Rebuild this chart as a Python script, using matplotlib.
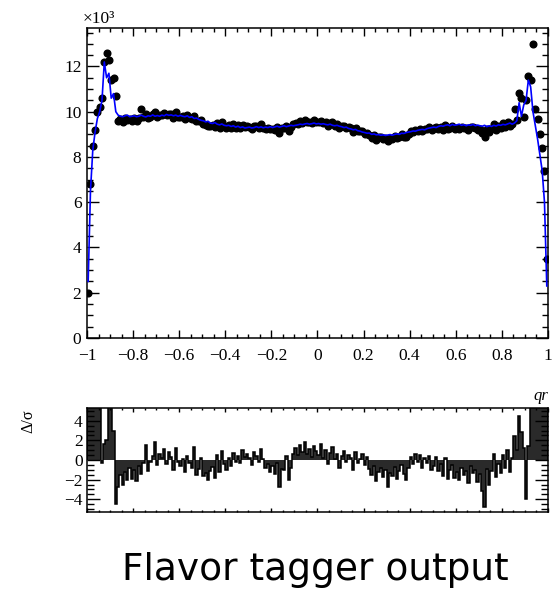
import numpy as np
import matplotlib.pyplot as plt
from matplotlib.ticker import MultipleLocator

# bin contents (in units of 10^3), 200 bins on [-1, 1]
data_k = [
    2.0, 6.8, 8.5, 9.2, 10.0, 10.2, 10.6, 12.2, 12.6, 12.3,
    11.4, 11.5, 10.7, 9.6, 9.7, 9.55, 9.72, 9.65, 9.7, 9.6,
    9.72, 9.57, 9.74, 10.1, 9.77, 9.92, 9.71, 9.78, 9.9, 9.98,
    9.78, 9.86, 9.87, 9.93, 9.84, 9.92, 9.89, 9.72, 9.97, 9.78,
    9.78, 9.81, 9.66, 9.86, 9.72, 9.7, 9.83, 9.57, 9.57, 9.64,
    9.44, 9.42, 9.38, 9.39, 9.41, 9.34, 9.5, 9.3, 9.55, 9.36,
    9.28, 9.42, 9.29, 9.45, 9.3, 9.4, 9.27, 9.43, 9.31, 9.36,
    9.34, 9.23, 9.38, 9.38, 9.28, 9.44, 9.3, 9.24, 9.26, 9.22,
    9.24, 9.19, 9.33, 9.04, 9.26, 9.28, 9.38, 9.17, 9.32, 9.44,
    9.52, 9.47, 9.6, 9.51, 9.64, 9.54, 9.56, 9.5, 9.64, 9.55,
    9.53, 9.61, 9.49, 9.54, 9.38, 9.52, 9.53, 9.39, 9.46, 9.28,
    9.38, 9.39, 9.3, 9.31, 9.26, 9.1, 9.3, 9.13, 9.15, 9.16,
    9.03, 9.08, 8.97, 8.85, 8.96, 8.77, 8.87, 8.88, 8.81, 8.85,
    8.69, 8.86, 8.8, 8.93, 8.83, 8.89, 9.0, 8.9, 8.88, 9.02,
    9.15, 9.11, 9.2, 9.16, 9.25, 9.14, 9.22, 9.22, 9.32, 9.2,
    9.26, 9.33, 9.24, 9.34, 9.2, 9.42, 9.23, 9.28, 9.39, 9.22,
    9.3, 9.25, 9.32, 9.28, 9.27, 9.19, 9.34, 9.31, 9.28, 9.19,
    9.24, 9.04, 8.88, 9.25, 9.12, 9.24, 9.46, 9.2, 9.38, 9.27,
    9.49, 9.34, 9.56, 9.38, 9.47, 10.1, 9.65, 10.85, 10.6, 9.75,
    10.5, 11.6, 11.4, 13.0, 10.1, 9.7, 9.0, 8.4, 7.4, 3.5,
]

fit_k = [
    2.5, 6.5, 8.3, 9.1, 9.7, 10.0, 10.5, 12.2, 11.5, 11.7,
    10.6, 10.8, 10.0, 9.85, 9.8, 9.78, 9.82, 9.85, 9.78, 9.8,
    9.82, 9.78, 9.8, 9.85, 9.8, 9.77, 9.82, 9.8, 9.86, 9.8,
    9.83, 9.8, 9.85, 9.82, 9.88, 9.84, 9.86, 9.82, 9.85, 9.8,
    9.84, 9.8, 9.78, 9.82, 9.75, 9.78, 9.7, 9.72, 9.66, 9.62,
    9.6, 9.55, 9.58, 9.5, 9.48, 9.52, 9.45, 9.42, 9.46, 9.4,
    9.38, 9.4, 9.35, 9.38, 9.32, 9.36, 9.3, 9.33, 9.28, 9.3,
    9.32, 9.28, 9.3, 9.34, 9.3, 9.33, 9.29, 9.32, 9.3, 9.34,
    9.3, 9.33, 9.36, 9.32, 9.35, 9.38, 9.34, 9.37, 9.4, 9.38,
    9.4, 9.42, 9.45, 9.43, 9.46, 9.48, 9.45, 9.47, 9.5, 9.46,
    9.48, 9.45, 9.47, 9.44, 9.42, 9.45, 9.4, 9.38, 9.4, 9.36,
    9.34, 9.3, 9.32, 9.26, 9.24, 9.2, 9.22, 9.16, 9.14, 9.1,
    9.08, 9.05, 9.06, 9.0, 9.02, 8.98, 8.99, 8.96, 8.98, 8.95,
    8.97, 8.99, 8.96, 9.0, 9.02, 9.0, 9.05, 9.04, 9.08, 9.1,
    9.12, 9.15, 9.14, 9.18, 9.2, 9.22, 9.2, 9.25, 9.28, 9.3,
    9.32, 9.3, 9.35, 9.38, 9.36, 9.4, 9.42, 9.38, 9.44, 9.4,
    9.42, 9.45, 9.4, 9.43, 9.38, 9.42, 9.4, 9.44, 9.38, 9.41,
    9.38, 9.36, 9.4, 9.34, 9.38, 9.35, 9.4, 9.37, 9.42, 9.4,
    9.44, 9.42, 9.46, 9.5, 9.45, 9.5, 9.6, 10.4, 9.8, 10.3,
    10.5, 11.4, 11.1, 10.0, 9.4, 8.8, 8.1, 7.4, 6.0, 2.3,
]

pull = [
    8, 9, 7, 8, 6, 7, -0.3, 1.6, 2.0, 8,
    7, 3.0, -4.5, -2.8, -1.5, -2.6, -1.2, -2.0, -0.8, -1.9,
    -1.0, -2.1, -0.6, -1.4, -0.3, 1.5, -1.1, -0.2, 0.4, 1.8,
    -0.5, 0.6, 0.2, 1.1, -0.4, 0.8, 0.3, -1.0, 1.2, -0.2,
    -0.6, 0.1, -1.2, 0.4, -0.3, -0.8, 1.3, -1.5, -0.9, 0.2,
    -1.6, -1.3, -2.0, -1.1, -0.7, -1.8, 0.5, -1.2, 0.9, -0.4,
    -1.0, 0.2, -0.6, 0.7, -0.2, 0.4, -0.3, 1.0, 0.3, 0.6,
    0.2, -0.5, 0.8, 0.4, -0.2, 1.1, 0.1, -0.8, -0.4, -1.2,
    -0.6, -1.4, -0.3, -2.8, -0.9, -1.0, 0.4, -2.0, -0.8, 0.6,
    1.2, 0.5, 1.5, 0.8, 1.8, 0.6, 1.1, 0.3, 1.4, 0.9,
    0.5, 1.6, 0.2, 1.0, -0.4, 0.7, 1.3, 0.1, 0.6, -0.8,
    0.4, 0.9, -0.2, 0.5, 0.2, -1.0, 0.8, -0.3, 0.1, 0.6,
    -0.5, 0.3, -0.9, -1.5, -0.6, -2.1, -1.2, -0.8, -1.7, -1.0,
    -2.8, -1.3, -1.6, -0.7, -1.9, -1.1, -0.5, -1.4, -2.0, -0.8,
    0.3, -0.4, 0.6, -0.2, 0.5, -0.8, 0.2, -0.3, 0.4, -1.0,
    -0.6, 0.3, -1.1, -0.4, -1.6, 0.2, -1.9, -1.0, -0.5, -1.8,
    -1.2, -2.0, -0.8, -1.5, -1.1, -2.3, -0.6, -1.3, -1.0, -2.2,
    -1.4, -3.2, -4.8, -0.9, -2.6, -1.1, 0.6, -1.7, -0.4, -1.3,
    0.5, -0.8, 1.0, -1.2, 0.2, 2.4, 1.0, 4.5, 2.9, 1.2,
    -4.0, 1.4, 8, 9, 8, 7, 9, 6, 8, 7,
]

edges = np.linspace(-1, 1, len(data_k) + 1)
centers = 0.5 * (edges[:-1] + edges[1:])

plt.rcParams["font.family"] = "Liberation Serif"
plt.rcParams["axes.linewidth"] = 1.1

fig = plt.figure(figsize=(5.56, 6.0), dpi=100)

# main frame
ax = fig.add_axes([0.1565, 0.4367, 0.829, 0.5166])
ax.plot(centers, data_k, "o", color="black", ms=4.8, zorder=2)
ax.plot(centers, fit_k, color="#0000ff", lw=1.2, zorder=3)
ax.set_xlim(-1, 1)
ax.set_ylim(0, 13.7)
ax.xaxis.set_minor_locator(MultipleLocator(0.05))
ax.yaxis.set_major_locator(MultipleLocator(2))
ax.yaxis.set_minor_locator(MultipleLocator(0.5))
ax.set_xticks([-1, -0.8, -0.6, -0.4, -0.2, 0, 0.2, 0.4, 0.6, 0.8, 1])
ax.set_xticklabels(["\u22121", "\u22120.8", "\u22120.6", "\u22120.4", "\u22120.2",
                    "0", "0.2", "0.4", "0.6", "0.8", "1"])
ax.tick_params(axis="both", which="both", direction="in", top=True, right=True,
               labelsize=12.5, width=1.0)
ax.tick_params(axis="y", which="major", length=8.6, pad=4)
ax.tick_params(axis="y", which="minor", length=4.3)
ax.tick_params(axis="x", which="major", length=5.8, pad=7.2)
ax.tick_params(axis="x", which="minor", length=3.2)
ax.text(-0.01, 1.003, "\u00d710\u00b3", transform=ax.transAxes, fontsize=12.5,
        ha="left", va="bottom")

# pull frame
axp = fig.add_axes([0.1565, 0.1467, 0.829, 0.1733])
axp.stairs(pull, edges, baseline=0, fill=True, color="#2a2a2a", zorder=1)
axp.stairs(pull, edges, baseline=0, color="black", lw=1.1, zorder=2)
axp.set_xlim(-1, 1)
axp.set_ylim(-5.3, 5.3)
axp.xaxis.set_major_locator(MultipleLocator(0.2))
axp.xaxis.set_minor_locator(MultipleLocator(0.05))
axp.yaxis.set_minor_locator(MultipleLocator(0.5))
axp.set_yticks([-4, -2, 0, 2, 4])
axp.set_yticklabels(["\u22124", "\u22122", "0", "2", "4"])
axp.tick_params(axis="both", which="both", direction="in", top=True, right=True,
                labelsize=12.5, width=1.0)
axp.tick_params(axis="x", labelbottom=False)
axp.tick_params(axis="y", which="major", length=9.5, pad=3)
axp.tick_params(axis="y", which="minor", length=5)
axp.tick_params(axis="x", which="major", length=3)
axp.tick_params(axis="x", which="minor", length=1.5)
axp.set_ylabel("\u0394/\u03c3", fontsize=11.5)
axp.yaxis.set_label_coords(-0.11, 0.87)
axp.text(1.0, 1.04, "qr", transform=axp.transAxes, fontsize=12, style="italic",
         ha="right", va="bottom")

fig.text(0.567, 0.05, "Flavor tagger output", fontsize=27, family="DejaVu Sans",
         ha="center", va="center")

fig.savefig("out.png", dpi=100)
